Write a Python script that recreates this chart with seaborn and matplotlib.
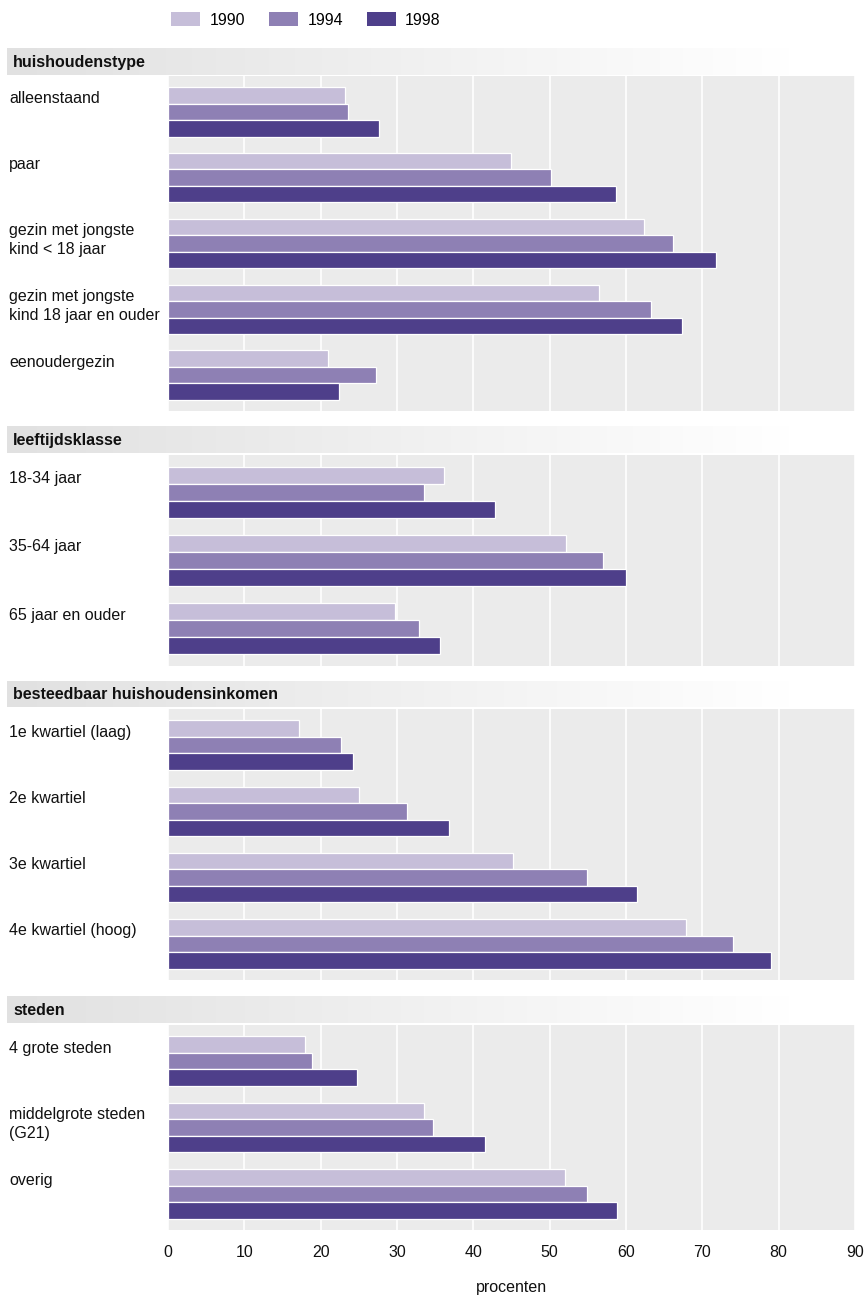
import matplotlib
matplotlib.use('Agg')
import matplotlib.pyplot as plt
import matplotlib.transforms as mtrans
from matplotlib.patches import Patch
from matplotlib.colors import LinearSegmentedColormap
import numpy as np
import pandas as pd
import seaborn as sns

plt.rcParams['font.family'] = ['Liberation Sans Narrow', 'Liberation Sans', 'DejaVu Sans']

years = ['1990', '1994', '1998']
colors = ['#c6bed9', '#8e80b4', '#4e3f8a']

sec_titles = ['huishoudenstype', 'leeftijdsklasse', 'besteedbaar huishoudensinkomen', 'steden']

cats_hh = ['alleenstaand', 'paar', 'gezin met jongste\nkind < 18 jaar',
           'gezin met jongste\nkind 18 jaar en ouder', 'eenoudergezin']
hh_1990 = [23.2, 45.0, 62.4, 56.5, 20.9]
hh_1994 = [23.6, 50.2, 66.1, 63.3, 27.3]
hh_1998 = [27.6, 58.7, 71.8, 67.4, 22.4]

cats_age = ['18-34 jaar', '35-64 jaar', '65 jaar en ouder']
age_1990 = [36.1, 52.2, 29.7]
age_1994 = [33.6, 57.0, 32.9]
age_1998 = [42.9, 60.0, 35.6]

cats_inc = ['1e kwartiel (laag)', '2e kwartiel', '3e kwartiel', '4e kwartiel (hoog)']
inc_1990 = [17.2, 25.0, 45.2, 67.8]
inc_1994 = [22.6, 31.3, 54.9, 74.0]
inc_1998 = [24.2, 36.8, 61.4, 79.0]

cats_city = ['4 grote steden', 'middelgrote steden\n(G21)', 'overig']
city_1990 = [18.0, 33.6, 52.0]
city_1994 = [18.8, 34.7, 54.9]
city_1998 = [24.7, 41.5, 58.8]

xticks = [0, 10, 20, 30, 40, 50, 60, 70, 80, 90]
xlabel = 'procenten'

panels_data = [
    (cats_hh, [hh_1990, hh_1994, hh_1998]),
    (cats_age, [age_1990, age_1994, age_1998]),
    (cats_inc, [inc_1990, inc_1994, inc_1998]),
    (cats_city, [city_1990, city_1994, city_1998]),
]

W, H = 864, 1298
fig = plt.figure(figsize=(W / 100, H / 100), dpi=100)

# (header top, header bottom, plot top, plot bottom) in pixels
layout = [(48, 75, 76, 411), (426, 453, 455, 666), (681, 707, 709, 980), (996, 1023, 1025, 1230)]
x0, x1 = 168, 855
txtcol = '#111111'
fs = 11.5

cmap = LinearSegmentedColormap.from_list('hdr', ['#e1e1e1', '#ffffff'])
grad = np.clip(np.linspace(0, 1.08, 256), 0, 1)[None, :]

for k, ((cats, vals), (ht, hb, pt, pb)) in enumerate(zip(panels_data, layout)):
    # header band
    hax = fig.add_axes([7 / W, 1 - hb / H, (x1 - 7) / W, (hb - ht) / H])
    hax.imshow(grad, aspect='auto', cmap=cmap, vmin=0, vmax=1, extent=[0, 1, 0, 1])
    hax.set_xlim(0, 1); hax.set_ylim(0, 1)
    hax.axis('off')
    hax.text(6 / (x1 - 7), 0.48, sec_titles[k], fontweight='bold', fontsize=fs,
             va='center', ha='left', color=txtcol)

    ax = fig.add_axes([x0 / W, 1 - pb / H, (x1 - x0) / W, (pb - pt) / H])
    df = pd.DataFrame({
        'cat': [c for c in cats for _ in years],
        'year': [y for _ in cats for y in years],
        'value': [vals[j][i] for i in range(len(cats)) for j in range(3)],
    })
    sns.barplot(data=df, x='value', y='cat', hue='year', hue_order=years, order=cats,
                palette=colors, orient='h', width=0.75, edgecolor='white', linewidth=0.9,
                ax=ax, legend=False, saturation=1)
    n = len(cats)
    ax.set_xlim(0, 90)
    ax.set_ylim(n - 1 + 0.375 + 0.17, -0.375 - 0.17)
    ax.set_facecolor('#ebebeb')
    ax.set_xticks(xticks)
    ax.grid(axis='x', color='white', lw=1.2)
    ax.grid(axis='y', visible=False)
    ax.set_axisbelow(True)
    ax.set_yticks([])
    ax.set_ylabel('')
    for s in ax.spines.values():
        s.set_visible(False)
    ax.tick_params(length=0)
    if k < 3:
        ax.set_xticklabels([])
        ax.set_xlabel('')
    else:
        ax.set_xticklabels([str(t) for t in xticks], fontsize=fs, color=txtcol)
        ax.tick_params(axis='x', pad=11)
        ax.set_xlabel(xlabel, fontsize=fs, color=txtcol, labelpad=14)

    tr = mtrans.blended_transform_factory(fig.transFigure, ax.transData)
    for i, c in enumerate(cats):
        ax.text(9 / W, i - 0.375 + 0.065, c, transform=tr, va='top', ha='left',
                fontsize=fs, color=txtcol, linespacing=1.3)

handles = [Patch(facecolor=c, edgecolor='none') for c in colors]
fig.legend(handles, years, loc='center', bbox_to_anchor=(306 / W, 1 - 20 / H), ncol=3,
           frameon=False, fontsize=fs, handlelength=1.8, handleheight=1.0,
           columnspacing=1.5, handletextpad=0.6)

fig.savefig('out.png', dpi=100)
